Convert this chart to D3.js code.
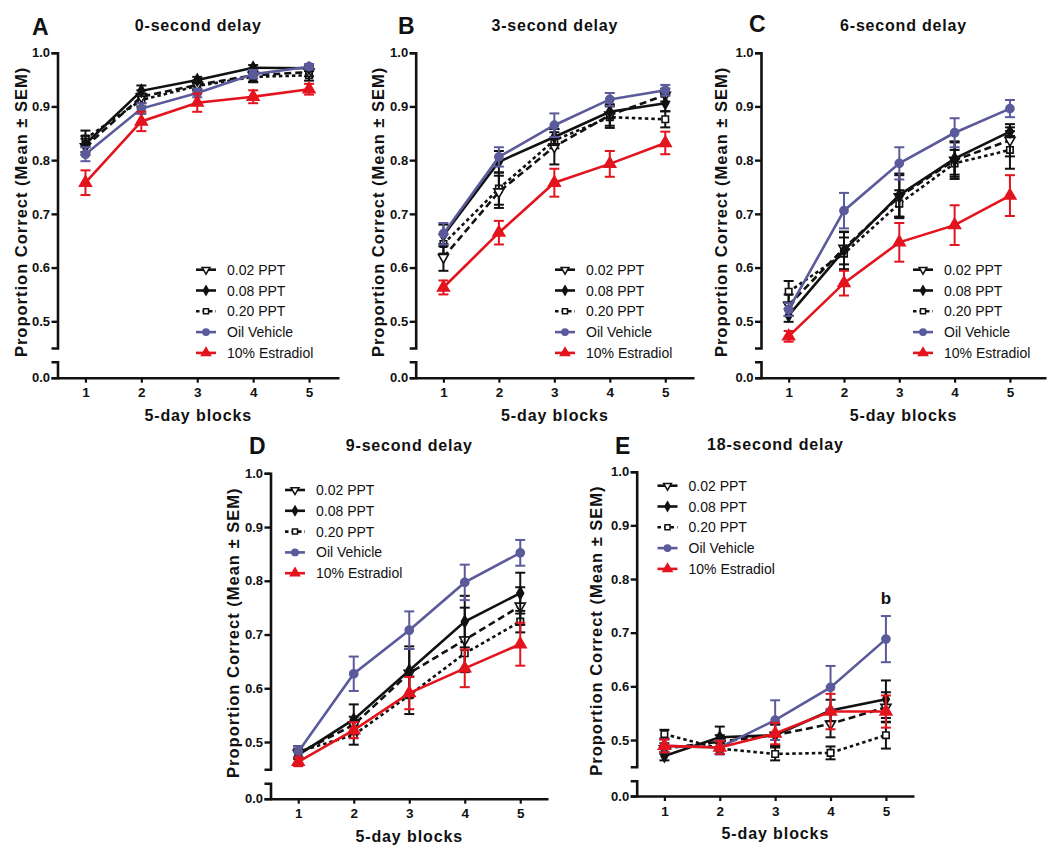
<!DOCTYPE html>
<html>
<head>
<meta charset="utf-8">
<script src="https://cdn.jsdelivr.net/npm/d3@7"></script>
<style>
  html, body { margin: 0; padding: 0; background: #fff; }
  svg { display: block; }
  text { font-family: "Liberation Sans", Arial, Helvetica, sans-serif; fill: #111; }
</style>
</head>
<body>
<svg id="chart" width="1050" height="858"></svg>
<script>
// ---------------- DATA ----------------
const blocks = [1, 2, 3, 4, 5];
const seriesNames = ["0.02 PPT", "0.08 PPT", "0.20 PPT", "Oil Vehicle", "10% Estradiol"];
const panelLetters = ["A", "B", "C", "D", "E"];
const delayTitles = ["0-second delay", "3-second delay", "6-second delay", "9-second delay", "18-second delay"];
const yTickValues = [0.5, 0.6, 0.7, 0.8, 0.9, 1.0];
const yBreakTicks = [0.0];

// means per panel: rows = series (0.02, 0.08, 0.20, Oil, Estradiol), cols = blocks 1..5
const meanA = [
  [0.825, 0.918, 0.940, 0.958, 0.964],
  [0.830, 0.929, 0.949, 0.972, 0.971],
  [0.840, 0.912, 0.938, 0.955, 0.958],
  [0.811, 0.896, 0.925, 0.960, 0.974],
  [0.758, 0.872, 0.907, 0.918, 0.932]
];
const semA = [
  [0.015, 0.012, 0.008, 0.012, 0.008],
  [0.015, 0.010, 0.006, 0.005, 0.005],
  [0.015, 0.012, 0.008, 0.010, 0.010],
  [0.013, 0.010, 0.008, 0.008, 0.005],
  [0.023, 0.018, 0.017, 0.012, 0.010]
];
const meanB = [
  [0.619, 0.741, 0.825, 0.884, 0.921],
  [0.660, 0.797, 0.843, 0.890, 0.906],
  [0.644, 0.747, 0.837, 0.880, 0.876],
  [0.663, 0.806, 0.865, 0.913, 0.930],
  [0.563, 0.665, 0.758, 0.793, 0.832]
];
const semB = [
  [0.025, 0.030, 0.033, 0.020, 0.012],
  [0.020, 0.020, 0.015, 0.012, 0.015],
  [0.018, 0.030, 0.015, 0.020, 0.015],
  [0.020, 0.018, 0.022, 0.012, 0.010],
  [0.013, 0.022, 0.026, 0.024, 0.021]
];
const meanC = [
  [0.530, 0.636, 0.732, 0.800, 0.837],
  [0.511, 0.632, 0.735, 0.803, 0.853],
  [0.555, 0.626, 0.719, 0.794, 0.819],
  [0.522, 0.706, 0.794, 0.851, 0.896],
  [0.472, 0.571, 0.647, 0.679, 0.734]
];
const semC = [
  [0.020, 0.030, 0.040, 0.035, 0.030],
  [0.012, 0.035, 0.040, 0.030, 0.008],
  [0.020, 0.030, 0.025, 0.025, 0.035],
  [0.012, 0.033, 0.030, 0.027, 0.016],
  [0.010, 0.023, 0.036, 0.037, 0.038]
];
const meanD = [
  [0.479, 0.532, 0.628, 0.690, 0.753],
  [0.476, 0.542, 0.633, 0.724, 0.777],
  [0.482, 0.513, 0.587, 0.665, 0.724],
  [0.482, 0.627, 0.708, 0.797, 0.852],
  [0.463, 0.522, 0.591, 0.637, 0.682]
];
const semD = [
  [0.008, 0.015, 0.045, 0.060, 0.035],
  [0.008, 0.028, 0.045, 0.048, 0.038],
  [0.010, 0.018, 0.035, 0.030, 0.020],
  [0.010, 0.032, 0.035, 0.033, 0.024],
  [0.008, 0.015, 0.030, 0.035, 0.040]
];
const meanE = [
  [0.484, 0.497, 0.509, 0.530, 0.561],
  [0.470, 0.505, 0.509, 0.555, 0.576],
  [0.511, 0.484, 0.474, 0.476, 0.509],
  [0.489, 0.486, 0.537, 0.598, 0.688],
  [0.489, 0.486, 0.512, 0.553, 0.553]
];
const semE = [
  [0.010, 0.012, 0.020, 0.025, 0.028],
  [0.008, 0.020, 0.020, 0.020, 0.035],
  [0.008, 0.010, 0.012, 0.012, 0.025],
  [0.012, 0.013, 0.037, 0.040, 0.043],
  [0.012, 0.012, 0.020, 0.033, 0.030]
];
const panelMeans = [meanA, meanB, meanC, meanD, meanE];
const panelSems = [semA, semB, semC, semD, semE];
const annotationText = "b"; // panel E, block 5, Oil Vehicle

// ---------------- LAYOUT / STYLE ----------------
const panels = [
  { x0: 57.5,  x1: 337,  top: 52.7,  y05: 321.3, brk1: 348,   brk2: 361.7, y0: 377.7, axEnd: 339,  letterX: 32,  letterY: 35,   ylabX: 27,  legX: 196, legY: 269.7 },
  { x0: 415.7, x1: 693,  top: 52.7,  y05: 321.3, brk1: 348,   brk2: 361.7, y0: 377.7, axEnd: 694,  letterX: 398, letterY: 33.5, ylabX: 384, legX: 555, legY: 269.7 },
  { x0: 761,   x1: 1037.6, top: 52.7, y05: 321.3, brk1: 348,  brk2: 361.7, y0: 377.7, axEnd: 1046, letterX: 749, letterY: 32,   ylabX: 727, legX: 913, legY: 269.7 },
  { x0: 270.5, x1: 548,  top: 473.3, y05: 742,   brk1: 769.3, brk2: 783.3, y0: 798.7, axEnd: 548,  letterX: 249, letterY: 454,  ylabX: 239, legX: 285, legY: 490 },
  { x0: 636.7, x1: 913.6, top: 471.7, y05: 740,  brk1: 766.7, brk2: 780.7, y0: 796,   axEnd: 914,  letterX: 615, letterY: 453.5, ylabX: 602, legX: 657.5, legY: 485.7 }
];
const colors = ["#111", "#111", "#111", "#5b5a9a", "#e3141e"];
const dashes = ["7,4", null, "3.5,3", null, null];
const symbols = [d3.symbolTriangle, d3.symbolDiamond, d3.symbolSquare, d3.symbolCircle, d3.symbolTriangle];
const symSizes = [44, 40, 42, 52, 60];
const symRot = [180, 0, 0, 0, 0];
const symFill = ["#fff", "#111", "#fff", "#5b5a9a", "#e3141e"];
const symStroke = ["#111", "#111", "#111", "#5b5a9a", "#e3141e"];
const drawOrder = [2, 0, 1, 3, 4];

const svg = d3.select("#chart");

panels.forEach((p, pi) => {
  const g = svg.append("g");
  const x = d3.scaleLinear().domain([0.5, 5.5]).range([p.x0, p.x1]);
  const y = d3.scaleLinear().domain([0.5, 1.0]).range([p.y05, p.top]);
  const yLow = d3.scaleLinear().domain([0, 0.05]).range([p.y0, p.y0 - (p.y05 - p.top) / 10 * 0.5]);
  const upperDomain = y.invert(p.brk1);
  const lowerDomainTop = yLow.invert(p.brk2);

  // upper y axis
  const yUp = d3.scaleLinear().domain([upperDomain, 1.0]).range([p.brk1, p.top]);
  const axUp = g.append("g").attr("transform", `translate(${p.x0},0)`)
    .call(d3.axisLeft(yUp).tickValues(yTickValues).tickFormat(d3.format(".1f")).tickSize(6).tickSizeOuter(6).tickPadding(1.5));
  const axLow = g.append("g").attr("transform", `translate(${p.x0},0)`)
    .call(d3.axisLeft(yLow.copy().domain([0, lowerDomainTop]).range([p.y0, p.brk2])).tickValues(yBreakTicks).tickFormat(d3.format(".1f")).tickSize(6).tickSizeOuter(6).tickPadding(1.5));
  [axUp, axLow].forEach(a => {
    a.selectAll("path.domain").attr("stroke", "#111").attr("stroke-width", 2.6);
    a.selectAll(".tick line").attr("stroke", "#111").attr("stroke-width", 2.4);
    a.selectAll(".tick text").attr("font-size", 13).attr("font-weight", "bold")
      .attr("font-family", '"Liberation Sans", Arial, sans-serif').attr("fill", "#111");
  });

  // x axis
  const xAxisScale = x.copy().domain([0.5, x.invert(p.axEnd)]).range([p.x0, p.axEnd]);
  const axX = g.append("g").attr("transform", `translate(0,${p.y0})`)
    .call(d3.axisBottom(xAxisScale).tickValues(blocks).tickFormat(d3.format("d")).tickSize(5).tickSizeOuter(0).tickPadding(5));
  axX.selectAll("path.domain").attr("stroke", "#111").attr("stroke-width", 2.6);
  axX.selectAll(".tick line").attr("stroke", "#111").attr("stroke-width", 2.2);
  axX.selectAll(".tick text").attr("font-size", 13.5).attr("font-weight", "bold")
    .attr("font-family", '"Liberation Sans", Arial, sans-serif').attr("fill", "#111");

  const midX = (p.x0 + p.axEnd) / 2;
  // title
  g.append("text").attr("x", midX).attr("y", p.top - 22).attr("text-anchor", "middle")
    .attr("font-size", 16).attr("font-weight", "bold").attr("letter-spacing", 0.8)
    .text(delayTitles[pi]);
  // panel letter
  g.append("text").attr("x", p.letterX).attr("y", p.letterY)
    .attr("font-size", 23).attr("font-weight", "bold").text(panelLetters[pi]);
  // x label
  g.append("text").attr("x", midX).attr("y", p.y0 + 43).attr("text-anchor", "middle")
    .attr("font-size", 16).attr("font-weight", "bold").attr("letter-spacing", 0.9)
    .text("5-day blocks");
  // y label
  const ylabY = p.top + (p.y0 - p.top) * 0.49;
  g.append("text").attr("transform", `translate(${p.ylabX},${ylabY}) rotate(-90)`)
    .attr("text-anchor", "middle").attr("font-size", 16.5).attr("font-weight", "bold").attr("letter-spacing", 1)
    .text("Proportion Correct (Mean \u00B1 SEM)");

  const means = panelMeans[pi], sems = panelSems[pi];
  const line = d3.line().x((d, i) => x(blocks[i])).y(d => y(d));

  drawOrder.forEach(si => {
    const sg = g.append("g");
    // error bars
    means[si].forEach((m, i) => {
      const cx = x(blocks[i]);
      const s = sems[si][i];
      sg.append("line").attr("x1", cx).attr("x2", cx).attr("y1", y(m - s)).attr("y2", y(m + s))
        .attr("stroke", colors[si]).attr("stroke-width", 2);
      [m - s, m + s].forEach(v => {
        sg.append("line").attr("x1", cx - 5).attr("x2", cx + 5).attr("y1", y(v)).attr("y2", y(v))
          .attr("stroke", colors[si]).attr("stroke-width", 2);
      });
    });
    // line
    sg.append("path").attr("d", line(means[si])).attr("fill", "none")
      .attr("stroke", colors[si]).attr("stroke-width", 2.6)
      .attr("stroke-dasharray", dashes[si]);
    // markers
    means[si].forEach((m, i) => {
      sg.append("path").attr("d", d3.symbol(symbols[si], symSizes[si])())
        .attr("transform", `translate(${x(blocks[i])},${y(m)}) rotate(${symRot[si]})`)
        .attr("fill", symFill[si]).attr("stroke", symStroke[si]).attr("stroke-width", 1.6);
    });
  });

  // legend
  const lg = g.append("g");
  seriesNames.forEach((name, si) => {
    const ly = p.legY + si * 20.8;
    lg.append("line").attr("x1", p.legX).attr("x2", p.legX + 20).attr("y1", ly).attr("y2", ly)
      .attr("stroke", colors[si]).attr("stroke-width", 2.6)
      .attr("stroke-dasharray", si === 2 ? "3.5,3" : null);
    lg.append("path").attr("d", d3.symbol(symbols[si], symSizes[si] * 0.6)())
      .attr("transform", `translate(${p.legX + 10},${ly}) rotate(${symRot[si]})`)
      .attr("fill", symFill[si]).attr("stroke", symStroke[si]).attr("stroke-width", 1.5);
    lg.append("text").attr("x", p.legX + 31).attr("y", ly + 5).attr("font-size", 14)
      .text(name);
  });

  // annotation
  if (pi === 4) {
    g.append("text").attr("x", x(5)).attr("y", y(means[3][4] + sems[3][4]) - 12)
      .attr("text-anchor", "middle").attr("font-size", 17).attr("font-weight", "bold")
      .text(annotationText);
  }
});
</script>
</body>
</html>
